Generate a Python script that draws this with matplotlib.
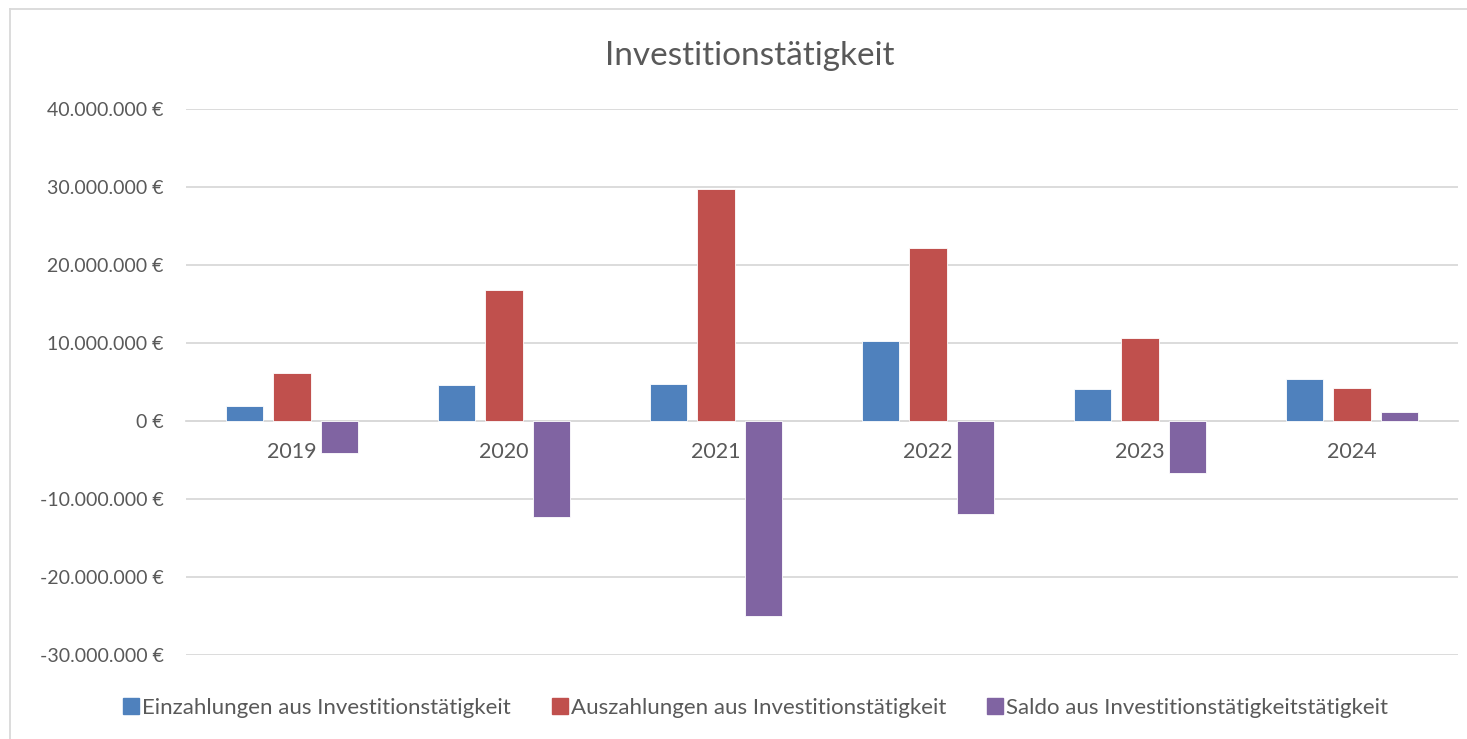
import matplotlib
matplotlib.use("Agg")
import matplotlib.pyplot as plt
from matplotlib.lines import Line2D
import numpy as np

plt.rcParams['font.family'] = ['Lato', 'DejaVu Sans']

years = ["2019", "2020", "2021", "2022", "2023", "2024"]
einzahlungen = [1.96e6, 4.57e6, 4.8e6, 10.3e6, 4.1e6, 5.38e6]
auszahlungen = [6.12e6, 16.8e6, 29.7e6, 22.2e6, 10.7e6, 4.2e6]
saldo = [-4.16e6, -12.25e6, -24.95e6, -11.9e6, -6.65e6, 1.15e6]
series_names = ["Einzahlungen aus Investitionstätigkeit",
                "Auszahlungen aus Investitionstätigkeit",
                "Saldo aus Investitionstätigkeitstätigkeit"]
colors = ["#4F81BD", "#C0504D", "#8064A2"]
yticks = [-30e6, -20e6, -10e6, 0, 10e6, 20e6, 30e6, 40e6]

W, H = 1467, 739
fig = plt.figure(figsize=(W/100, H/100), dpi=100)
ax = fig.add_axes([186/W, 1-655/H, (1458-186)/W, (655-109)/H])

x = np.arange(len(years))
width = 0.175
off = 0.222
for i, (vals, c) in enumerate(zip([einzahlungen, auszahlungen, saldo], colors)):
    ax.bar(x + (i-1)*off, vals, width, color=c, edgecolor="white", linewidth=0.6, zorder=3)

ax.set_xlim(-0.5, len(years)-0.5)
ax.set_ylim(-30e6, 40e6)
ax.set_yticks(yticks)
ax.set_yticklabels([f"{int(v):,} €".replace(",", ".") for v in yticks])
ax.grid(axis='y', color="#D9D9D9", linewidth=1.3, zorder=0)
ax.set_axisbelow(True)
for s in ['top', 'right', 'left']:
    ax.spines[s].set_visible(False)
ax.spines['bottom'].set_position(('data', 0))
ax.spines['bottom'].set_color("#D9D9D9")
ax.spines['bottom'].set_linewidth(1.3)
ax.set_xticks(x)
ax.set_xticklabels(years)
ax.tick_params(axis='x', length=0, pad=15, labelsize=15.5, labelcolor="#595959")
ax.tick_params(axis='y', length=0, pad=16, labelsize=14, labelcolor="#595959")

fig.text(750/W, 1-56/H, "Investitionstätigkeit", ha='center', va='center',
         fontsize=24, color="#595959")

handles = [Line2D([0], [0], marker='s', linestyle='none', markersize=11,
                  markerfacecolor=c, markeredgecolor=c) for c in colors]
fig.legend(handles, series_names, loc='center', bbox_to_anchor=(755/W, 1-708/H),
           ncol=3, frameon=False, fontsize=16, labelcolor="#595959",
           handletextpad=0.1, columnspacing=1.8, handlelength=0.8)

# chart border
fig.add_artist(Line2D([10/W, 10/W], [0, 1-9/H], color="#D9D9D9", linewidth=1.3))
fig.add_artist(Line2D([10/W, 1], [1-9/H, 1-9/H], color="#D9D9D9", linewidth=1.3))

fig.savefig("out.png", dpi=100, facecolor="white")
